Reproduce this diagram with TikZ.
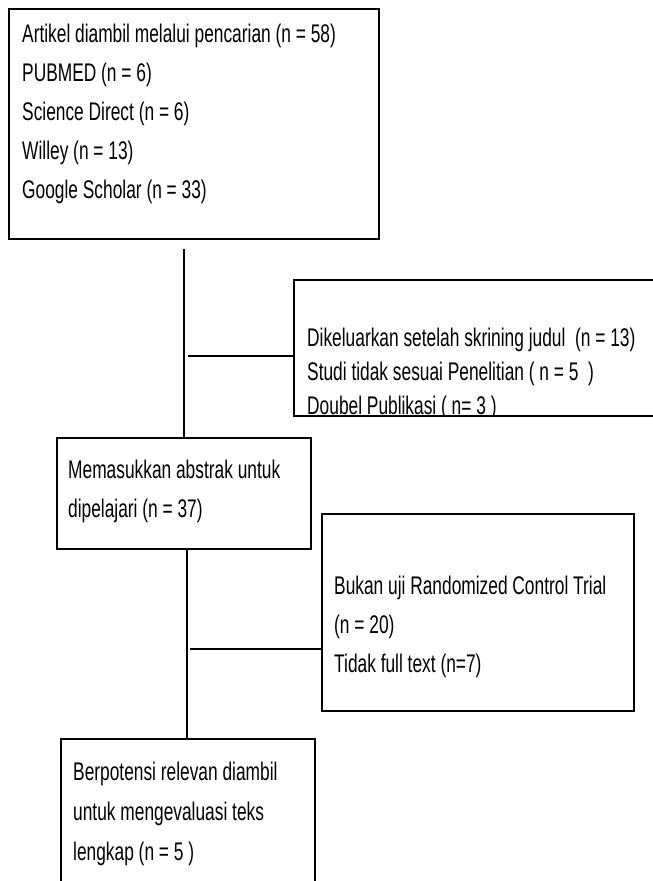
\documentclass[tikz,border=0pt]{standalone}
\usepackage{fontspec}
\setmainfont[FakeStretch=0.68]{Liberation Sans}

\begin{document}
\begin{tikzpicture}[x=1pt, y=-1pt,
  box/.style={draw, line width=1.5pt, inner sep=0pt, anchor=north west},
  txt/.style={anchor=west, inner sep=0pt, align=left, font=\fontsize{25.5}{39}\selectfont},
  link/.style={line width=1.5pt}]
  \useasboundingbox (0,0) rectangle (653,881);

  % boxes (the second and last one run off the page)
  \node[box, minimum width=370, minimum height=230] (search) at (8,8) {};
  \node[box, minimum width=380, minimum height=136] (screen) at (293,279) {};
  \node[box, minimum width=254, minimum height=111] (abstrak) at (56,437) {};
  \node[box, minimum width=312, minimum height=197] (excl) at (321,513) {};
  \node[box, minimum width=254, minimum height=170] (full) at (60,738) {};

  \node[txt] (searchtxt) at (22,114) {Artikel diambil melalui pencarian (n = 58)\\
    PUBMED (n = 6)\\Science Direct (n = 6)\\Willey (n = 13)\\Google Scholar (n = 33)};
  \begin{scope}
    \clip (screen.north west) rectangle (screen.south east);
    \node[txt, font=\fontsize{25.5}{34}\selectfont] (screentxt) at (307,374)
      {Dikeluarkan setelah skrining judul~ (n = 13)\\
       Studi tidak sesuai Penelitian ( n = 5~ )\\Doubel Publikasi ( n= 3 )};
  \end{scope}
  \node[txt] (abstraktxt) at (68,491) {Memasukkan abstrak untuk\\dipelajari (n = 37)};
  \node[txt] (excltxt) at (334,627) {Bukan uji Randomized Control Trial\\(n = 20)\\Tidak full text (n=7)};
  \node[txt, font=\fontsize{25.5}{40}\selectfont] (fulltxt) at (73,814)
    {Berpotensi relevan diambil\\untuk mengevaluasi teks\\lengkap (n = 5 )};

  % connectors
  \coordinate (top1) at (184,249);
  \coordinate (fork1) at (188,356);
  \coordinate (top2) at (187,549);
  \coordinate (fork2) at (190,649);
  \draw[link] (top1) -- (top1 |- abstrak.north);
  \draw[link] (fork1) -- (fork1 -| screen.west);
  \draw[link] (top2) -- (top2 |- full.north);
  \draw[link] (fork2) -- (fork2 -| excl.west);
\end{tikzpicture}
\end{document}
